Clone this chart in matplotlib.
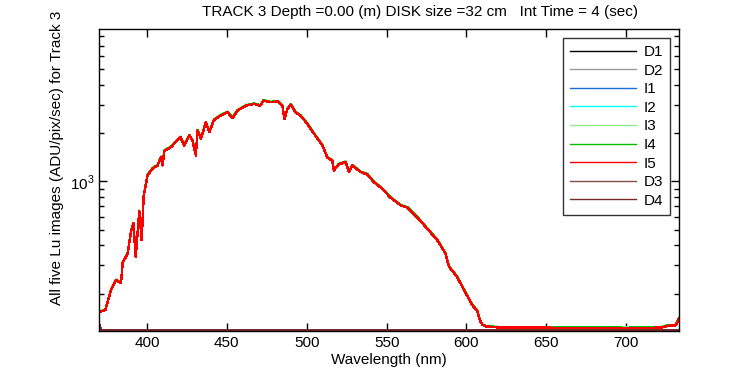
import matplotlib
matplotlib.use('Agg')
import matplotlib.pyplot as plt
from matplotlib.ticker import LogLocator, NullFormatter, FixedLocator
import numpy as np

plt.rcParams['font.family'] = ['Liberation Sans', 'DejaVu Sans']
plt.rcParams['mathtext.fontset'] = 'custom'
plt.rcParams['mathtext.rm'] = 'Liberation Sans'

# Lu spectrum (nm, ADU/pix/sec)
wavelength = [370.5, 374, 377.5, 380.6, 383.8, 384.8, 388, 390, 391.5, 393, 395.2,
              396.7, 398, 400.4, 403.5, 406.7, 408.8, 409.8, 410.8, 415, 421, 423.3,
              426.5, 428.5, 430.6, 431.7, 433.8, 436.9, 439, 442, 446, 450.4, 453.6,
              456.7, 462, 467, 471, 473, 477.5, 481.7, 484.8, 486, 488, 490, 493, 496,
              500.4, 504.6, 509.8, 513, 516, 517, 520, 524.4, 526.5, 528.5, 533.8,
              537.9, 542, 546, 552.5, 558.8, 563, 569, 575.4, 581.7, 586.9, 589, 594,
              600.4, 603.5, 606.7, 608.3, 609.8, 612, 620, 640, 660, 680, 700, 715,
              722, 726, 731, 733]
lu_values = [154, 158, 210, 243, 232, 311, 357, 484, 548, 339, 654,
             431, 818, 1090, 1200, 1257, 1416, 1257, 1543, 1634, 1883, 1675,
             1932, 1799, 1450, 2074, 1843, 2333, 2023, 2416, 2570, 2693, 2488,
             2760, 2963, 3036, 2963, 3185, 3110, 3150, 2963, 2449, 2832, 3010, 2693, 2570,
             2283, 1977, 1675, 1403, 1350, 1170, 1275, 1318, 1142, 1257, 1142,
             1105, 990, 922, 792, 709, 687, 600, 508, 431, 355, 294, 255,
             194, 170, 156, 137, 128, 125, 123, 123, 122.5, 122.5, 122, 122.5,
             123, 126, 127, 140]

# the five Lu images differ by about a percent
light_names = ['I1', 'I2', 'I3', 'I4', 'I5']
light_gain = [1.004, 1.002, 1.01, 1.005, 1.0]

# dark images sit at the bottom of the axis
dark_wavelength = [370.5, 371.5, 733]
dark_values = [126, 117.6, 117.6]

colors = {'D1': 'black', 'D2': '#999999', 'I1': '#1a6fd6', 'I2': 'cyan',
          'I3': '#90ee90', 'I4': '#00c000', 'I5': 'red', 'D3': '#805050',
          'D4': '#7a2a2a'}
order = ['D1', 'D2', 'I1', 'I2', 'I3', 'I4', 'I5', 'D3', 'D4']

fig = plt.figure(figsize=(7.5, 3.75), dpi=100, facecolor='w')
ax = fig.add_axes([99/750, 1-331/375, 580/750, 302/375])

for name in order:
    if name.startswith('D'):
        ax.plot(dark_wavelength, dark_values, color=colors[name], lw=1.0,
                label=name, antialiased=False)
    else:
        g = light_gain[light_names.index(name)]
        ax.plot(wavelength, np.array(lu_values)*g, color=colors[name], lw=1.0,
                label=name, antialiased=False)

ax.set_yscale('log')
ax.set_xlim(370, 733)
ax.set_ylim(117, 8900)
ax.set_xticks([400, 450, 500, 550, 600, 650, 700])
ax.yaxis.set_major_locator(FixedLocator([1000]))
ax.yaxis.set_major_formatter(plt.FuncFormatter(lambda v, p: r'$10^{3}$'))
ax.yaxis.set_minor_locator(LogLocator(base=10, subs=np.arange(2, 10)))
ax.yaxis.set_minor_formatter(NullFormatter())
ax.tick_params(which='both', direction='in', top=True, right=True, labelsize=11, width=1)
ax.tick_params(which='major', length=6)
ax.tick_params(which='minor', length=3.5)
for s in ax.spines.values():
    s.set_linewidth(1.0)

ax.set_xlabel('Wavelength (nm)', fontsize=11, labelpad=2)
fig.text(57/750, 1-305/375, 'All five Lu images (ADU/pix/sec) for Track 3',
         rotation=90, ha='center', va='bottom', fontsize=11)
fig.text(420/750, 1-12/375, 'TRACK 3 Depth =0.00 (m) DISK size =32 cm   Int Time = 4 (sec)',
         ha='center', va='center', fontsize=11)

leg = ax.legend(loc='upper right', fontsize=11, frameon=True, fancybox=False,
                edgecolor='black', handlelength=4.3, handletextpad=0.5,
                labelspacing=0.3, borderaxespad=0.6, borderpad=0.45)
leg.get_frame().set_linewidth(1.0)

plt.savefig('out.png', dpi=100)
